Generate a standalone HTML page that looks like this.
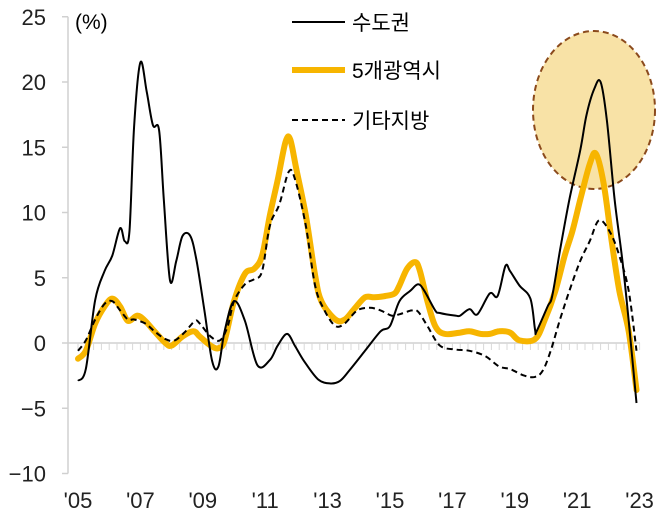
<!DOCTYPE html>
<html><head><meta charset="utf-8"><style>
html,body{margin:0;padding:0;background:#fff;}
svg{display:block;font-family:"Liberation Sans","Noto Sans CJK KR",sans-serif;}
</style></head><body>
<svg id="chart" width="664" height="528" viewBox="0 0 664 528" xmlns="http://www.w3.org/2000/svg">
<ellipse cx="594" cy="110" rx="61" ry="79" fill="#f8e2a6" stroke="#8b4a1c" stroke-width="2" stroke-dasharray="6,4"/>
<g id="axes"></g>
<g id="series"></g>
<g>
<line x1="292" y1="22" x2="345" y2="22" stroke="#000" stroke-width="2"/>
<text x="352" y="30" font-size="21">수도권</text>
<line x1="292" y1="70" x2="345" y2="70" stroke="#f7b500" stroke-width="6"/>
<text x="352" y="78" font-size="21">5개광역시</text>
<line x1="292" y1="120" x2="345" y2="120" stroke="#000" stroke-width="2" stroke-dasharray="6,4"/>
<text x="352" y="128" font-size="21">기타지방</text>
</g>
<text x="75" y="29" font-size="21">(%)</text>
</svg>
<script>
const yTicks=[25,20,15,10,5,0,-5,-10];
const xTickLabels=["'05","'07","'09","'11","'13","'15","'17","'19","'21","'23"];
const xTickYears=[2005,2007,2009,2011,2013,2015,2017,2019,2021,2023];
const seoulT=[2005,2005.25,2005.55,2005.85,2006.1,2006.35,2006.5,2006.65,2006.8,2007,2007.2,2007.4,2007.6,2007.75,2007.95,2008.15,2008.35,2008.6,2008.8,2009.05,2009.3,2009.5,2009.7,2010,2010.35,2010.75,2011.15,2011.4,2011.7,2011.95,2012.25,2012.7,2013.1,2013.4,2013.7,2014.2,2014.7,2015,2015.3,2015.65,2015.9,2016.1,2016.45,2016.6,2017.1,2017.25,2017.55,2017.8,2018.2,2018.45,2018.7,2018.85,2019.15,2019.5,2019.65,2019.7,2020.05,2020.2,2020.45,2020.75,2021.1,2021.3,2021.55,2021.75,2021.95,2022.2,2022.45,2022.65,2022.9];
const seoulV=[-2.9,-2,3.3,5.5,6.7,8.8,7.8,8.6,16.7,21.5,19.3,16.7,16.3,11,4.8,6.3,8.2,8.2,6.3,2.5,-1.4,-1.8,0.9,3.2,1.7,-1.7,-1.3,-0.2,0.7,-0.2,-1.4,-2.8,-3.1,-2.9,-2.1,-0.6,0.9,1.3,3.2,4.0,4.5,4.0,2.5,2.3,2.1,2.1,2.6,2.2,3.8,3.6,5.9,5.5,4.4,3.4,1.0,0.9,2.8,3.6,7.1,11,14.8,17.5,19.5,20,17.1,11,6.3,1.7,-4.6];
const metroT=[2005,2005.25,2005.55,2005.85,2006.1,2006.35,2006.6,2006.9,2007.15,2007.45,2007.8,2008,2008.35,2008.7,2008.9,2009.25,2009.5,2009.7,2010,2010.35,2010.65,2010.9,2011.15,2011.4,2011.65,2011.8,2012,2012.3,2012.6,2012.8,2013.25,2013.55,2013.85,2014.2,2014.5,2014.85,2015.15,2015.3,2015.55,2015.8,2015.95,2016.2,2016.45,2016.75,2017.25,2017.55,2017.9,2018.2,2018.5,2018.85,2019.15,2019.65,2019.95,2020.3,2020.6,2020.85,2021.1,2021.4,2021.6,2021.85,2022.1,2022.35,2022.65,2022.9];
const metroV=[-1.2,-0.6,1.5,2.8,3.4,2.8,1.7,2.1,1.7,0.9,0,-0.2,0.5,0.9,0.5,-0.2,-0.4,0.2,3.2,5.3,5.7,6.7,9.8,12.5,15.4,15.6,13.3,9.8,5.2,3.2,1.8,1.8,2.6,3.5,3.5,3.6,3.8,4.4,5.7,6.2,5.6,3.2,1.3,0.7,0.8,0.9,0.7,0.7,0.9,0.8,0.2,0.3,1.7,4.0,6.7,8.6,11,13.7,14.5,12.2,7.9,4.0,0.9,-3.6];
const otherT=[2005,2005.25,2005.55,2005.85,2006.1,2006.35,2006.6,2006.8,2007.15,2007.45,2007.8,2008.1,2008.45,2008.75,2008.9,2009.25,2009.55,2009.8,2010,2010.35,2010.65,2010.9,2011.15,2011.45,2011.75,2011.95,2012.3,2012.6,2012.9,2013.25,2013.55,2013.95,2014.35,2014.7,2015.05,2015.3,2015.7,2015.9,2016.2,2016.6,2017.1,2017.55,2018.05,2018.5,2018.85,2019.3,2019.65,2019.9,2020.15,2020.45,2020.75,2021.1,2021.4,2021.7,2022.05,2022.35,2022.65,2022.9];
const otherV=[-0.6,0.2,1.8,3.0,3.2,2.5,1.8,1.8,1.5,0.9,0.3,0.2,0.9,1.7,1.5,0.5,0.2,1.3,3.2,4.5,4.9,5.5,9,10.6,13.1,12.6,9,4.4,2.5,1.3,1.5,2.5,2.7,2.5,2.1,2.2,2.5,2.4,1.3,-0.2,-0.5,-0.6,-1.0,-1.8,-2.0,-2.5,-2.6,-2.1,-0.6,1.8,4.0,6.3,7.8,9.4,8.5,6.7,4.0,-0.6];

const NS='http://www.w3.org/2000/svg';
const xS=t=>78+(t-2005)*31.2;
const yS=v=>343-v*13.05;
const axes=document.getElementById('axes');
const series=document.getElementById('series');
function mk(tag,attrs,parent){const e=document.createElementNS(NS,tag);for(const k in attrs)e.setAttribute(k,attrs[k]);parent.appendChild(e);return e;}

const yAxis=mk('line',{x1:68,y1:yS(25),x2:68,y2:yS(-10),stroke:'#d0d0d0','stroke-width':1.5},axes);


yTicks.forEach(v=>{
  const tk=mk('line',{x1:62,y1:yS(v),x2:68,y2:yS(v),stroke:'#d0d0d0','stroke-width':1.5},axes);
  
  
  const tx=mk('text',{x:46,y:yS(v)+8,'font-size':22,'text-anchor':'end',fill:'#222'},axes);
  tx.textContent=(v<0?'\u2212'+(-v):String(v));
  
  
});
const zl=mk('line',{x1:68,y1:yS(0),x2:640,y2:yS(0),stroke:'#d0d0d0','stroke-width':1.5},axes);


for(let t=2005;t<=2023.01;t+=0.25){
  const m=mk('line',{x1:xS(t),y1:yS(0),x2:xS(t),y2:yS(0)+7,stroke:'#d8d8d8','stroke-width':1},axes);
  
  
}
xTickLabels.forEach((lab,i)=>{
  const tx=mk('text',{x:xS(xTickYears[i]),y:508,'font-size':22,'text-anchor':'middle',fill:'#222'},axes);
  tx.textContent=lab;
  
  
});

function pathD(T,V){
  const p=T.map((t,i)=>[xS(t),yS(V[i])]);
  let d='M'+p[0][0].toFixed(1)+','+p[0][1].toFixed(1);
  for(let i=0;i<p.length-1;i++){
    const p0=p[Math.max(0,i-1)],p1=p[i],p2=p[i+1],p3=p[Math.min(p.length-1,i+2)];
    const c1=[p1[0]+(p2[0]-p0[0])/6,p1[1]+(p2[1]-p0[1])/6];
    const c2=[p2[0]-(p3[0]-p1[0])/6,p2[1]-(p3[1]-p1[1])/6];
    d+=' C'+c1.map(n=>n.toFixed(1))+' '+c2.map(n=>n.toFixed(1))+' '+p2.map(n=>n.toFixed(1));
  }
  return d;
}
const pm=mk('path',{d:pathD(metroT,metroV),fill:'none',stroke:'#f7b500','stroke-width':6,'stroke-linejoin':'round','stroke-linecap':'round'},series);


const po=mk('path',{d:pathD(otherT,otherV),fill:'none',stroke:'#000','stroke-width':2,'stroke-dasharray':'6,4'},series);


const ps=mk('path',{d:pathD(seoulT,seoulV),fill:'none',stroke:'#000','stroke-width':2,'stroke-linejoin':'round'},series);


</script>
</body></html>
